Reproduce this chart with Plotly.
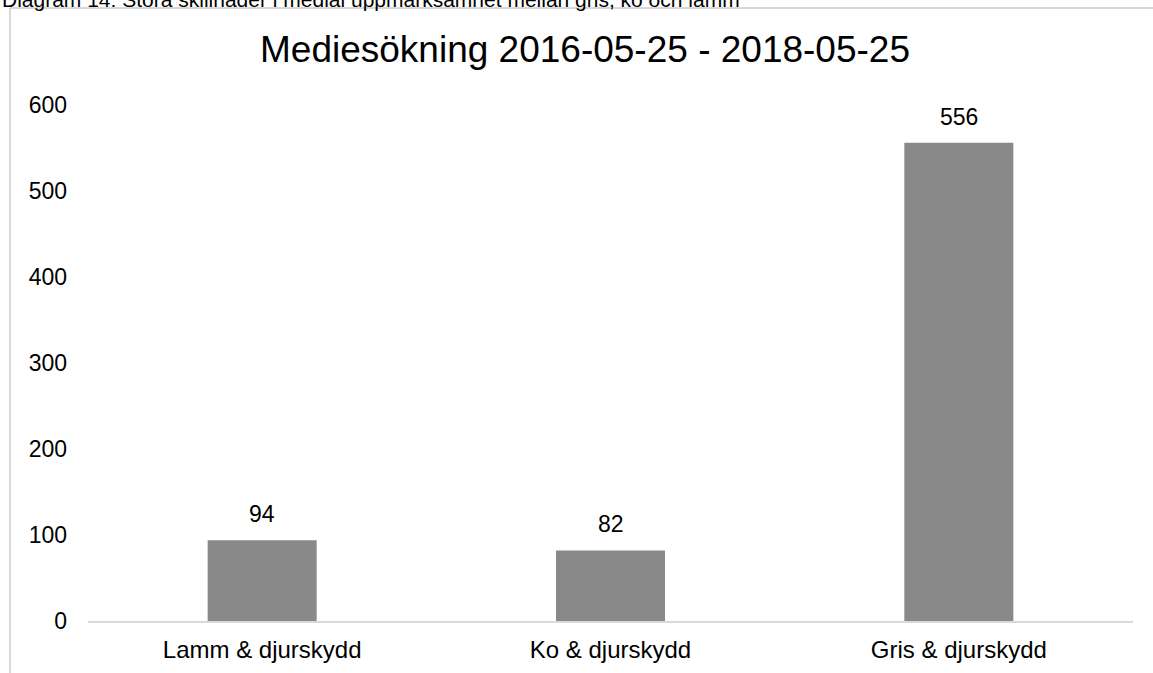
import plotly.graph_objects as go

categories = ["Lamm & djurskydd", "Ko & djurskydd", "Gris & djurskydd"]
values = [94, 82, 556]
tick_vals = [0, 100, 200, 300, 400, 500, 600]

W, H = 1153, 673
L, R, T, B = 88, 20, 105, 52
pw, ph = W - L - R, H - T - B

def px_x(p):
    return (p - L) / pw

def px_y(p):
    return (H - B - p) / ph

fig = go.Figure(go.Bar(
    x=categories, y=values,
    marker=dict(color="#898989", line=dict(width=0)),
    width=0.313,
    hoverinfo="x+y",
))

for c, v in zip(categories, values):
    fig.add_annotation(x=c, y=v, text=str(v), showarrow=False, yanchor="middle",
                       yshift=26, font=dict(size=23, color="#000000"))

fig.update_layout(
    width=W, height=H,
    margin=dict(l=L, r=R, t=T, b=B, autoexpand=False),
    paper_bgcolor="white", plot_bgcolor="white",
    font=dict(family="Liberation Sans, Arial, sans-serif", color="#000000"),
    showlegend=False,
    title=dict(text="Mediesökning 2016-05-25 - 2018-05-25", x=585 / W, xanchor="center",
               y=1 - 49 / H, yanchor="middle", font=dict(size=37, color="#000000")),
    xaxis=dict(showgrid=False, showline=True, linecolor="#d9d9d9", linewidth=2, automargin=False,
               ticks="", tickfont=dict(size=24), zeroline=False, ticklabelstandoff=6),
    yaxis=dict(range=[0, 600], tickvals=tick_vals, showgrid=False, zeroline=False, automargin=False,
               showline=False, ticks="", tickfont=dict(size=23), ticklabelstandoff=20),
)

fig.add_annotation(text="Diagram 14: Stora skillnader i medial uppmärksamhet mellan gris, ko och lamm",
                   xref="paper", yref="paper", x=px_x(0), y=px_y(-1), xanchor="left", yanchor="middle",
                   showarrow=False, font=dict(size=21, color="#000000"))

fig.add_shape(type="line", xref="paper", yref="paper", x0=px_x(10), x1=px_x(1160),
              y0=px_y(8), y1=px_y(8), line=dict(color="#d9d9d9", width=2))
fig.add_shape(type="line", xref="paper", yref="paper", x0=px_x(10), x1=px_x(10),
              y0=px_y(8), y1=px_y(680), line=dict(color="#d9d9d9", width=2))

fig.write_html("out.html", config={"displayModeBar": False},
               post_script="document.body.style.margin='0';document.body.style.overflow='hidden';")
